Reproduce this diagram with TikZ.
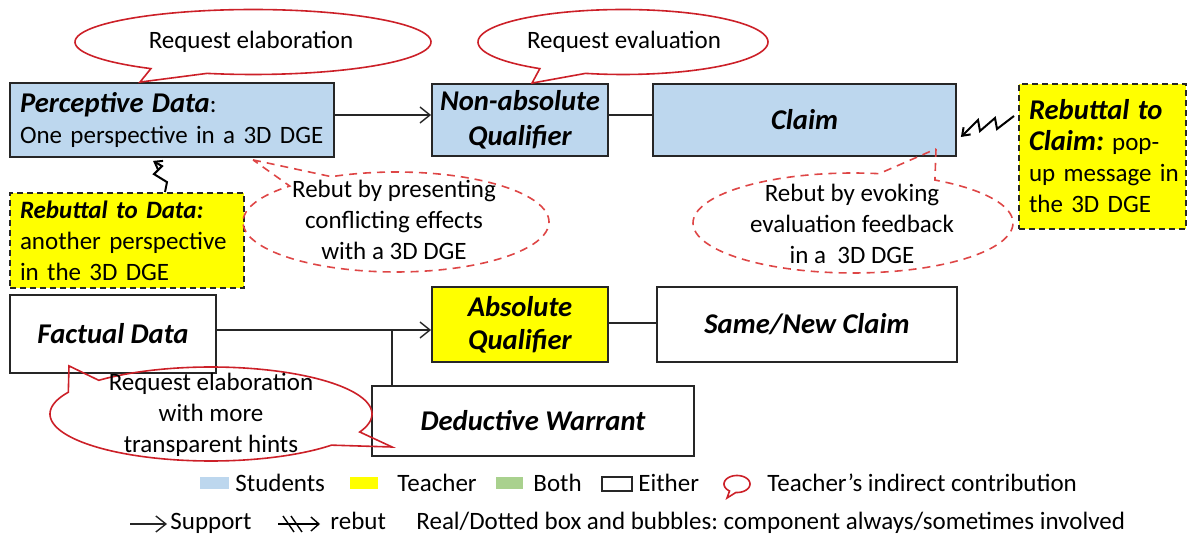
\documentclass[tikz,border=0pt]{standalone}
\usepackage{fontspec}
\setmainfont{Carlito}
\usetikzlibrary{arrows.meta,calc}
\definecolor{stud}{RGB}{189,215,238}
\definecolor{teach}{RGB}{255,255,0}
\definecolor{bothc}{RGB}{169,209,142}
\definecolor{bred}{RGB}{204,32,40}
\definecolor{dred}{RGB}{222,70,70}
\definecolor{edge}{RGB}{38,38,38}
\newcommand\nsz{\fontsize{12.5}{15.5}\selectfont}
\newcommand\bsz{\fontsize{14.3}{17.5}\selectfont\bfseries\itshape}
\newcommand\bsm{\bfseries\itshape}
\frenchspacing
\begin{document}
\begin{tikzpicture}[x=0.5pt,y=-0.5pt,
  box/.style={draw=edge, line width=0.9pt, inner sep=0pt, font=\bsz, align=center},
  sbox/.style={box, fill=stud},
  tbox/.style={box, fill=teach},
  wbox/.style={box},
  rbox/.style={box, fill=teach, dash pattern=on 3pt off 2pt},
  sup/.style={-{Straight Barb[length=5pt,width=8pt]}, line width=0.7pt, draw=edge},
  plainline/.style={line width=0.7pt, draw=edge},
  zig/.style={-{Straight Barb[length=3.5pt,width=5pt]}, line width=1pt},
  sbub/.style={draw=bred, line width=0.8pt},
  dbub/.style={draw=dred, line width=0.8pt, dash pattern=on 4pt off 3pt},
  btxt/.style={font=\nsz, align=center, inner sep=0pt},
  leg/.style={font=\nsz, anchor=base west, inner sep=0pt}
]
\useasboundingbox (0,0) rectangle (1188,539);

% ---- boxes
\node[sbox, inner xsep=5pt, text width=152pt, minimum height=37pt, align=left, font=\nsz] (pd) at (172,120)
  {\mbox{{\bsz Perceptive Data}:}\\\mbox{One perspective in a 3D DGE}};
\node[sbox, minimum width=88pt, minimum height=36pt] (na) at (520,120) {Non-absolute\\Qualifier};
\node[sbox, minimum width=151.5pt, minimum height=36pt] (cl) at (804.5,120) {Claim};
\node[rbox, inner xsep=5pt, text width=73.5pt, minimum height=72.5pt, align=left, font=\nsz] (rc) at (1102.5,156.5)
  {\mbox{\bsz Rebuttal to}\\\mbox{{\bsz Claim:} pop-}\\\mbox{up message in}\\\mbox{the 3D DGE}};
\node[rbox, inner xsep=5pt, text width=107pt, minimum height=47.5pt, align=left, font=\nsz] (rd) at (127,240.5)
  {\mbox{\bsm Rebuttal to Data:}\\\mbox{another perspective}\\\mbox{in the 3D DGE}};
\node[wbox, minimum width=103pt, minimum height=39pt] (fd) at (113,334) {Factual Data};
\node[tbox, minimum width=88pt, minimum height=37.5pt] (aq) at (520,324.5) {Absolute\\[-1pt]Qualifier};
\node[wbox, minimum width=150pt, minimum height=37.5pt] (sn) at (807,324.5) {Same/New Claim};
\node[wbox, minimum width=161pt, minimum height=35pt] (dw) at (533,421) {Deductive Warrant};

% ---- connectors
\draw[sup] ([yshift=2.5pt]pd.east) -- ([yshift=2.5pt]na.west);
\draw[plainline] ([yshift=2.5pt]na.east) -- ([yshift=2.5pt]cl.west);
\coordinate (fdo) at ([yshift=2pt]fd.east);
\draw[sup] (fdo) -- (fdo -| aq.west);
\coordinate (jn) at ([xshift=10.5pt]dw.west |- fdo);
\draw[plainline] (jn) -- (jn |- dw.north);
\draw[plainline] ([yshift=0.75pt]aq.east) -- ([yshift=0.75pt]sn.west);

% ---- rebut zigzags
\draw[zig] ([xshift=19pt]rd.north) -- ++(2,-10) -- ++(-13,-8) -- ++(8,-8) -- ([xshift=-9.5pt,yshift=-1.5pt]pd.south);
\coordinate (zc) at (1014,116);
\draw[zig] (zc) -- ++(-17,13) -- ++(-2,-11) -- ++(-15,13) -- ++(-2,-11) -- ([xshift=2pt,yshift=-8.5pt]cl.east);

% ---- bubbles
\coordinate (t1) at ([xshift=-16pt]pd.north);
\draw[sbub] (t1) -- plot[domain=125:465, samples=120] ({253+178*cos(\x)},{42+32.5*sin(\x)}) -- cycle;
\node[btxt] (q1) at (251,42) {Request elaboration};

\coordinate (t2) at ([xshift=6pt]na.north);
\draw[sbub] (t2) -- plot[domain=125:465, samples=120] ({623+145*cos(\x)},{42+32.5*sin(\x)}) -- cycle;
\node[btxt] (q2) at (624,42) {Request evaluation};

\coordinate (t3) at ([xshift=40.5pt,yshift=-1pt]pd.south);
\draw[dbub] (t3) -- plot[domain=245:586, samples=120] ({396+153*cos(\x)},{222+50*sin(\x)}) -- cycle;
\node[btxt] (q3) at (394,220) {Rebut by presenting\\conflicting effects\\with a 3D DGE};

\coordinate (t4) at ([xshift=65.75pt,yshift=4pt]cl.south);
\draw[dbub] (t4) -- plot[domain=300.8:639.4, samples=120] ({853+160*cos(\x)},{223+50*sin(\x)}) -- cycle;
\node[btxt] (q4) at (852,224) {Rebut by evoking\\evaluation feedback\\in a \ 3D DGE};

\coordinate (t5) at ([xshift=-22pt,yshift=4pt]fd.south);
\coordinate (t6) at ([xshift=10.5pt,yshift=-13pt]dw.west);
\draw[sbub] (t5) -- plot[domain=225.8:382.5, samples=100] ({211+161*cos(\x)},{414+47*sin(\x)})
  -- (t6) -- plot[domain=401.5:567.6, samples=100] ({211+161*cos(\x)},{414+47*sin(\x)}) -- cycle;
\node[btxt] (q5) at (211,415) {Request elaboration\\with more\\transparent hints};

% ---- legend
\fill[stud] (200,477) rectangle (229,489);
\node[leg] (l1) at (235,491) {Students};
\fill[teach] (350,477) rectangle (378,489);
\node[leg] (l2) at (397,491) {Teacher};
\fill[bothc] (496,477) rectangle (523,489);
\node[leg] (l3) at (533,491) {Both};
\draw[edge, line width=0.7pt] (602,477) rectangle (632,491);
\node[leg] (l4) at (638,491) {Either};
\draw[bred, line width=0.8pt] (727,498) -- plot[domain=125:455, samples=40] ({737+13*cos(\x)},{484+8.5*sin(\x)}) -- cycle;
\node[leg] (l5) at (767,491) {Teacher’s indirect contribution};

\coordinate (sa) at (130,524);
\draw[sup] (sa) -- ++(37,0);
\node[leg] (l6) at (170,529) {Support};
\coordinate (ra) at (278,524);
\draw[-{Straight Barb[length=4pt,width=7pt]}, line width=0.7pt] (ra) -- ++(42,0);
\draw[line width=0.7pt] (283,516) -- (294,532) (291,516) -- (302,532);
\node[leg] (l7) at (330,529) {rebut};
\node[leg] (l8) at (416,529) {Real/Dotted box and bubbles: component always/sometimes involved};
\end{tikzpicture}
\end{document}
